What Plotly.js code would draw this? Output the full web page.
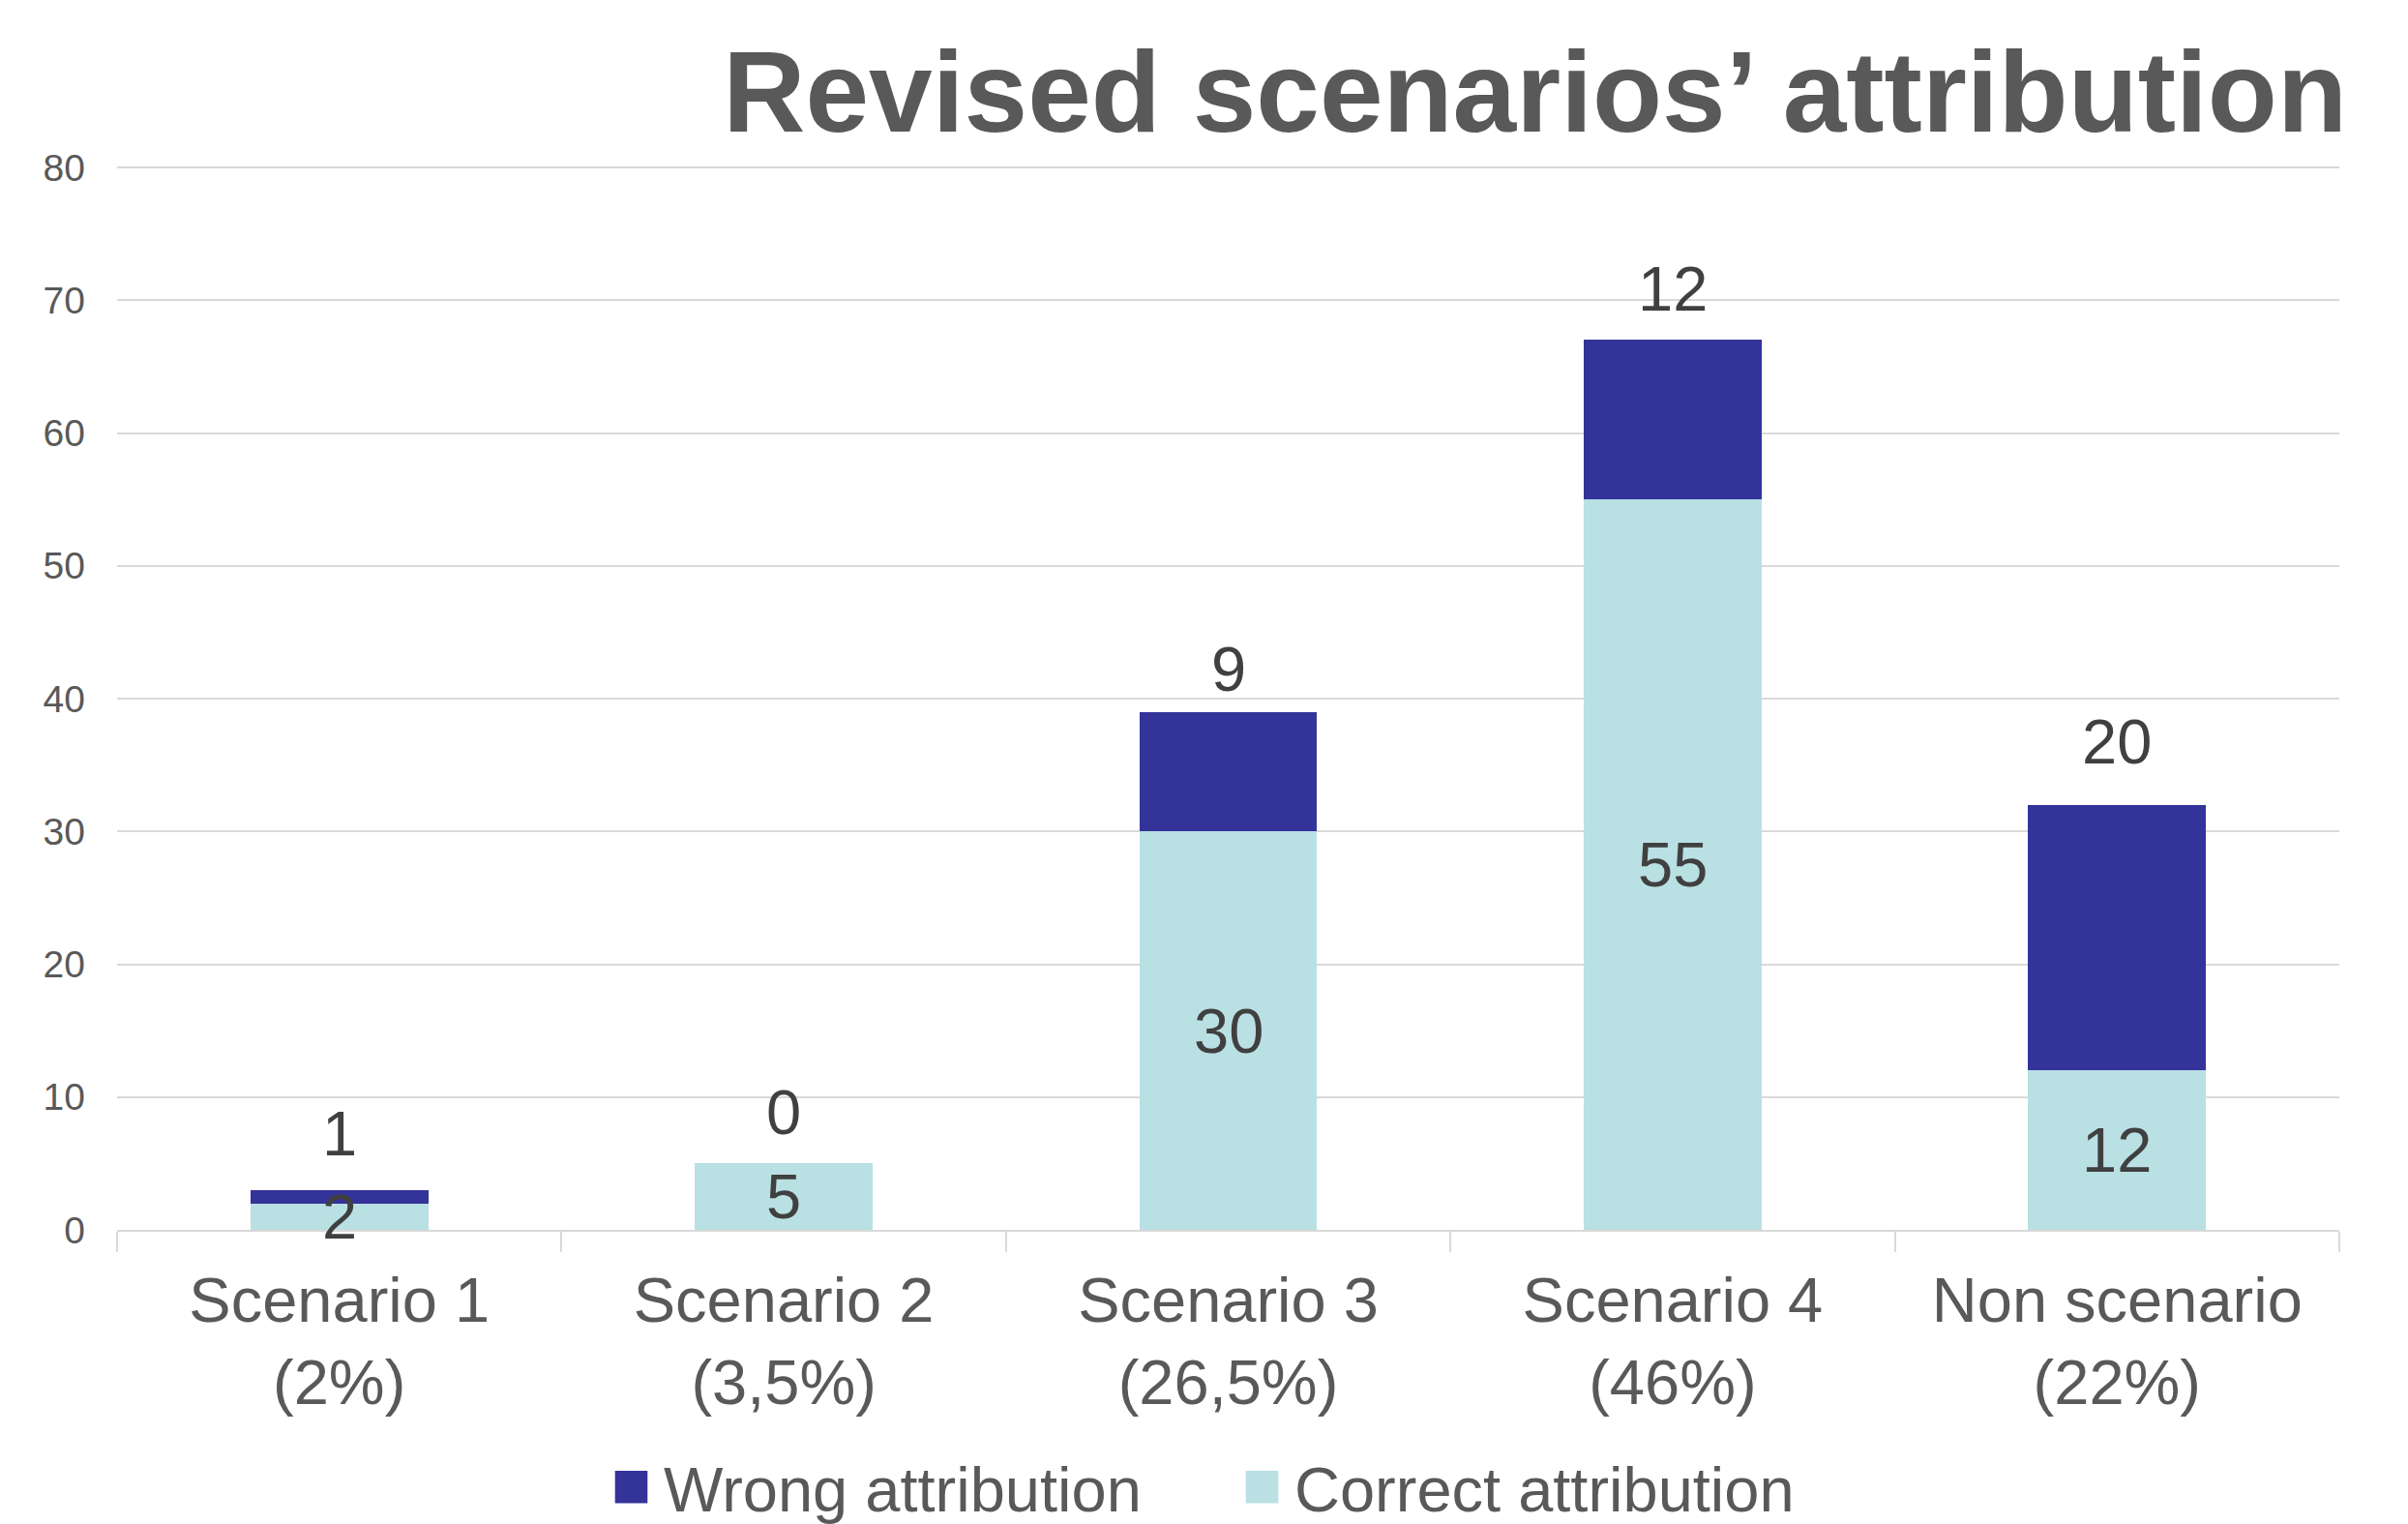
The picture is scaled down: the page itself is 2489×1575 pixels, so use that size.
<!DOCTYPE html>
<html>
<head>
<meta charset="utf-8">
<script src="https://cdn.plot.ly/plotly-3.0.1.min.js"></script>
<style>
  html, body { margin: 0; padding: 0; background: #ffffff; }
  #chart { width: 2489px; height: 1575px; }
</style>
</head>
<body>
<div id="chart"></div>
<script>
// Category labels (two lines: name and share)
const categories = [
  'Scenario 1<br>(2%)',
  'Scenario 2<br>(3,5%)',
  'Scenario 3<br>(26,5%)',
  'Scenario 4<br>(46%)',
  'Non scenario<br>(22%)'
];

// Counts per category
const correctAttribution = [2, 5, 30, 55, 12];
const wrongAttribution = [1, 0, 9, 12, 20];

const seriesNames = ['Correct attribution', 'Wrong attribution'];
const yTicks = [0, 10, 20, 30, 40, 50, 60, 70, 80];

const FONT = 'Liberation Sans, Arial, Helvetica, sans-serif';
const TEXT_GREY = '#595959';
const LABEL_DARK = '#404040';
const GRID = '#d9d9d9';

// pixel nudges for the labels above each stack
const topLabelLift = [20, 14, 6, 14, 27];

const correctTrace = {
  type: 'bar',
  name: seriesNames[0],
  x: categories,
  y: correctAttribution,
  marker: { color: '#b9e0e3', line: { width: 0 } },
  hoverinfo: 'x+y+name'
};

const wrongTrace = {
  type: 'bar',
  name: seriesNames[1],
  x: categories,
  y: wrongAttribution,
  marker: { color: '#333399', line: { width: 0 } },
  hoverinfo: 'x+y+name'
};

const labelFont = { family: FONT, size: 65, color: LABEL_DARK };

// Values of the lower series, centred in their segments
const correctLabels = categories.map((c, i) => ({
  x: c,
  y: correctAttribution[i] / 2,
  xref: 'x',
  yref: 'y',
  text: String(correctAttribution[i]),
  showarrow: false,
  yanchor: 'middle',
  font: labelFont
}));

// Values of the upper series, sitting above each stack
const wrongLabels = categories.map((c, i) => ({
  x: c,
  y: correctAttribution[i] + wrongAttribution[i],
  xref: 'x',
  yref: 'y',
  text: String(wrongAttribution[i]),
  showarrow: false,
  yanchor: 'bottom',
  yshift: topLabelLift[i],
  font: labelFont
}));

const layout = {
  width: 2489,
  height: 1575,
  paper_bgcolor: '#ffffff',
  plot_bgcolor: '#ffffff',
  font: { family: FONT, color: TEXT_GREY },
  margin: { l: 121, r: 71, t: 171, b: 304, pad: 0 },
  barmode: 'stack',
  bargap: 0.6,
  showlegend: true,
  title: {
    text: 'Revised scenarios’ attribution',
    font: { family: FONT, size: 118, color: TEXT_GREY, weight: 'bold' },
    xref: 'container',
    yref: 'container',
    x: 2426 / 2489,
    xanchor: 'right',
    y: 1 - 136 / 1575,
    yanchor: 'bottom'
  },
  xaxis: {
    type: 'category',
    showgrid: false,
    showline: true,
    linecolor: GRID,
    linewidth: 2,
    ticks: 'outside',
    tickson: 'boundaries',
    ticklen: 21,
    tickwidth: 2,
    tickcolor: GRID,
    ticklabelstandoff: 15,
    tickfont: { family: FONT, size: 65, color: TEXT_GREY },
    range: [-0.5, 4.5],
    fixedrange: true
  },
  yaxis: {
    range: [0, 80.15],
    tickvals: yTicks,
    ticktext: yTicks.map(String),
    showgrid: true,
    gridcolor: GRID,
    gridwidth: 2,
    zeroline: false,
    showline: false,
    ticks: '',
    ticklabelstandoff: 32,
    tickfont: { family: FONT, size: 39, color: TEXT_GREY },
    fixedrange: true
  },
  legend: {
    orientation: 'h',
    traceorder: 'reversed',
    xref: 'container',
    yref: 'container',
    x: 619 / 2489,
    xanchor: 'left',
    y: 38 / 1575,
    yanchor: 'middle',
    itemwidth: 57,
    entrywidth: 580,
    font: { family: FONT, size: 65, color: TEXT_GREY },
    bgcolor: 'rgba(0,0,0,0)',
    borderwidth: 0
  },
  annotations: correctLabels.concat(wrongLabels)
};

Plotly.newPlot('chart', [correctTrace, wrongTrace], layout, {
  displayModeBar: false,
  staticPlot: true
}).then(function (gd) {
  // enlarge the square legend swatches to suit the large legend text
  gd.querySelectorAll('.legend .legendpoints path').forEach(function (p) {
    const t = p.getAttribute('transform') || '';
    p.setAttribute('transform', t + ' scale(2.8)');
  });
});
</script>
</body>
</html>
